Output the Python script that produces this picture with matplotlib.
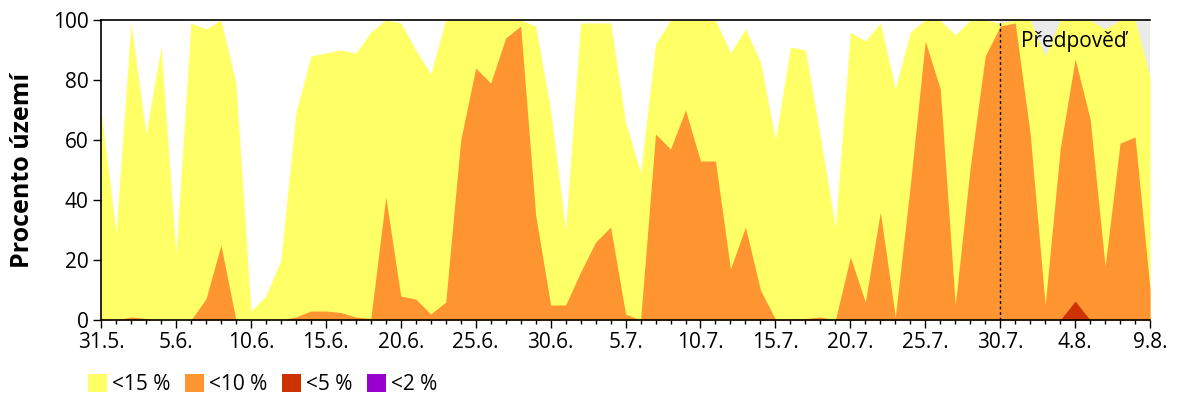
import numpy as np
import matplotlib
matplotlib.use("Agg")
import matplotlib.pyplot as plt
from matplotlib.patches import Patch

plt.rcParams["font.family"] = ["Open Sans", "DejaVu Sans"]

# Daily values 31.5. - 9.8. (percent of territory)
below_15 = [70, 29, 99, 62, 91, 22, 99, 97, 100, 79,
            3, 8, 20, 69, 88, 89, 90, 89, 96, 100,
            99, 90, 82, 100, 100, 100, 100, 100, 100, 98,
            70, 30, 99, 99, 99, 66, 49, 92, 100, 100,
            100, 100, 89, 97, 86, 60, 91, 90, 61, 31,
            96, 93, 99, 77, 96, 100, 100, 95, 100, 100,
            99, 100, 100, 88, 100, 100, 100, 97, 100, 100,
            81]
below_10 = [0.5, 0, 1, 0.5, 0, 0, 0, 7, 25, 0,
            0, 0, 0, 1, 3, 3, 2.5, 1, 0.5, 41,
            8, 7, 2, 6, 60, 84, 79, 94, 98, 35,
            5, 5, 16, 26, 31, 2, 0, 62, 57, 70,
            53, 53, 17, 31, 10, 0.3, 0.3, 0.5, 1, 0,
            21, 6, 36, 1, 45, 93, 77, 5, 51, 88,
            98, 99, 62, 5, 57, 87, 67, 18, 59, 61,
            10]
below_5 = [0] * 65 + [6.3] + [0] * 5
below_2 = [0] * 71

tick_labels = ["31.5.", "5.6.", "10.6.", "15.6.", "20.6.", "25.6.", "30.6.",
               "5.7.", "10.7.", "15.7.", "20.7.", "25.7.", "30.7.", "4.8.", "9.8."]
forecast_start = 60  # 30.7.

series = [below_15, below_10, below_5, below_2]
names = ["<15 %", "<10 %", "<5 %", "<2 %"]
colors = ["#ffff66", "#ff9530", "#cc3300", "#9900cc"]

days = np.arange(len(below_15))

fig = plt.figure(figsize=(12, 4), dpi=100)
ax = fig.add_axes([0.0842, 0.2, 0.8742, 0.75])

# forecast background
ax.axvspan(forecast_start, days[-1], color="#ebebeb", lw=0, zorder=0)

for vals, c in zip(series, colors):
    ax.fill_between(days, 0, vals, color=c, lw=0, zorder=1)

ax.axvline(forecast_start, color="black", ls=(0, (2, 2)), lw=1, zorder=3)
ax.text(forecast_start + 1.4, 93, "Předpověď", fontsize=15, va="center", ha="left", zorder=4)

ax.set_xlim(0, days[-1])
ax.set_ylim(0, 100)
ax.set_xticks(np.arange(0, len(days), 5))
ax.set_xticklabels(tick_labels)
ax.set_xticks(days, minor=True)
ax.set_yticks(np.arange(0, 101, 20))
ax.tick_params(axis="both", which="major", labelsize=15, direction="out", length=6, width=1)
ax.tick_params(axis="x", which="minor", direction="out", length=3, width=1)
ax.tick_params(axis="x", pad=3)
ax.tick_params(axis="y", pad=3)
ax.set_ylabel("Procento území", fontsize=18, fontweight="bold", labelpad=13)

ax.spines["right"].set_visible(False)
for s in ["left", "bottom", "top"]:
    ax.spines[s].set_linewidth(1.2)

handles = [Patch(facecolor=c, edgecolor="none") for c in colors]
fig.legend(handles, names, loc="lower left", bbox_to_anchor=(0.058, -0.035), ncol=4,
           frameon=False, fontsize=15, handlelength=0.9, handleheight=0.9,
           handletextpad=0.25, columnspacing=0.7)

fig.savefig("out.png", dpi=100)
